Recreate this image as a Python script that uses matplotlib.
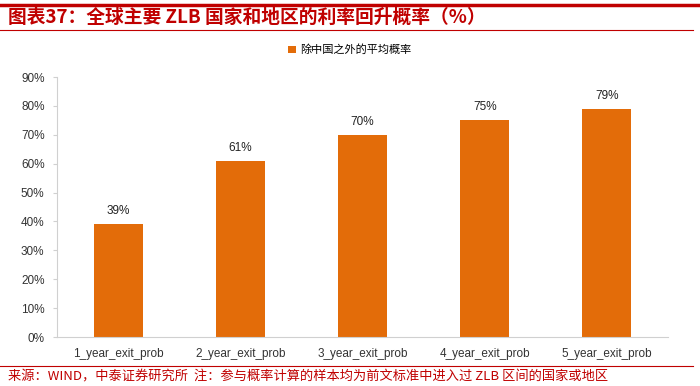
import matplotlib
matplotlib.use("Agg")
from matplotlib import pyplot as plt
from matplotlib.lines import Line2D

plt.rcParams['font.family'] = ['Noto Sans CJK SC', 'DejaVu Sans']

categories = ["1_year_exit_prob", "2_year_exit_prob", "3_year_exit_prob",
              "4_year_exit_prob", "5_year_exit_prob"]
values = [39, 61, 70, 75, 79]
series_name = "除中国之外的平均概率"
title = "图表37：全球主要 ZLB 国家和地区的利率回升概率（%）"
source = "来源：WIND，中泰证券研究所  注：参与概率计算的样本均为前文标准中进入过 ZLB 区间的国家或地区"

red = "#C00000"
orange = "#E36C09"

fig = plt.figure(figsize=(7, 3.86), dpi=100)

# decoration lines and texts
fig.add_artist(Line2D([0.0, 1.0], [1 - 5/386, 1 - 5/386], color=red, lw=2.5))
fig.add_artist(Line2D([0.0, 0.99], [1 - 30/386, 1 - 30/386], color=red, lw=0.8))
fig.add_artist(Line2D([0.0, 0.99], [1 - 366/386, 1 - 366/386], color=red, lw=0.8))
fig.text(0.012, 1 - 17/386, title, color=red, fontsize=13.5, fontweight="bold",
         style="italic", va="center", ha="left")
fig.text(0.012, 1 - 377/386, source, color=red, fontsize=9.5, va="center", ha="left")

ax = fig.add_axes([57/700, 1 - 337/386, (668 - 57)/700, (337 - 77)/386])
x = range(len(categories))
bars = ax.bar(x, values, width=0.4, color=orange, label=series_name)
for xi, v in zip(x, values):
    ax.text(xi, v + 2.5, "{}%".format(v), ha="center", va="bottom", fontsize=8.5,
            color="#222222", family="Liberation Sans")

ax.set_ylim(0, 90)
ax.set_xlim(-0.5, len(categories) - 0.5)
ax.set_yticks(range(0, 91, 10))
ax.set_yticklabels(["{}%".format(t) for t in range(0, 91, 10)],
                   family="Liberation Sans", fontsize=8.5, color="#333333")
ax.set_xticks(list(x))
ax.set_xticklabels(categories, family="Liberation Sans", fontsize=8.5, color="#333333")
ax.tick_params(axis="y", length=3, color="#d0d0d0", pad=6)
ax.tick_params(axis="x", length=0, pad=8)
for s in ["top", "right"]:
    ax.spines[s].set_visible(False)
ax.spines["left"].set_color("#d0d0d0")
ax.spines["bottom"].set_color("#d0d0d0")

fig.legend(handles=[bars], labels=[series_name], loc="center",
           bbox_to_anchor=(0.5, 1 - 50/386), frameon=False, fontsize=8,
           handlelength=0.7, handleheight=0.7, handletextpad=0.4)

fig.savefig("out.png", dpi=100)
plt.close(fig)
